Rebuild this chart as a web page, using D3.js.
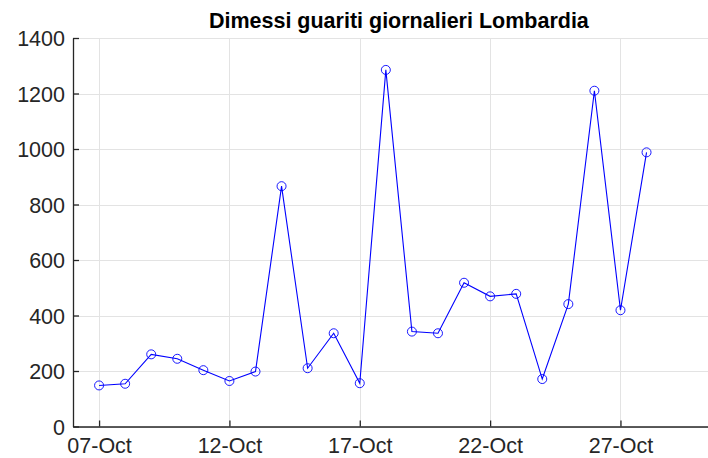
<!DOCTYPE html>
<html>
<head>
<meta charset="utf-8">
<script src="https://cdn.jsdelivr.net/npm/d3@7"></script>
<style>
  body { margin: 0; background: #fff; }
  svg { display: block; font-family: "Liberation Sans", Arial, sans-serif; }
</style>
</head>
<body>
<div id="chart"></div>
<script>
// Dimessi guariti giornalieri Lombardia

// Data
let days = ['2020-10-07', '2020-10-08', '2020-10-09', '2020-10-10', '2020-10-11', '2020-10-12',
  '2020-10-13', '2020-10-14', '2020-10-15', '2020-10-16', '2020-10-17', '2020-10-18',
  '2020-10-19', '2020-10-20', '2020-10-21', '2020-10-22', '2020-10-23', '2020-10-24',
  '2020-10-25', '2020-10-26', '2020-10-27', '2020-10-28']
let guariti = [148, 154, 260, 244, 203, 164, 198, 866, 210, 336, 156, 1285,
  342, 336, 518, 469, 478, 171, 441, 1210, 419, 988]
let xTicks = ['2020-10-07', '2020-10-12', '2020-10-17', '2020-10-22', '2020-10-27']
let yTicks = [0, 200, 400, 600, 800, 1000, 1200, 1400]

let parse = d3.timeParse('%Y-%m-%d')
let data = days.map((d, i) => ({ date: parse(d), value: guariti[i] }))

let chart = {
  width: 708,
  height: 458,
  left: 73,
  top: 38,
  bottom: 426.5,
}

let svg = d3.select('#chart')
  .append('svg')
    .attr('width', chart.width)
    .attr('height', chart.height)

// scales (axes run past the right edge of the window, as in the picture)
let x = d3.scaleTime()
  .domain([parse('2020-10-06'), parse('2020-10-31')])
  .range([chart.left, chart.left + 25 * 26.07])

let y = d3.scaleLinear()
  .domain([0, 1400])
  .range([chart.bottom, chart.top])

let xRight = x.range()[1]

// grid
let grid = svg.append('g')
  .attr('stroke', '#e3e3e3')
  .attr('stroke-width', 1)

grid.selectAll('line.gy')
  .data(yTicks)
  .enter()
  .append('line')
    .attr('class', 'gy')
    .attr('x1', chart.left)
    .attr('x2', xRight)
    .attr('y1', (d) => Math.round(y(d)) + 0.5)
    .attr('y2', (d) => Math.round(y(d)) + 0.5)

grid.selectAll('line.gx')
  .data(xTicks.map(parse))
  .enter()
  .append('line')
    .attr('class', 'gx')
    .attr('x1', (d) => Math.round(x(d)) + 0.5)
    .attr('x2', (d) => Math.round(x(d)) + 0.5)
    .attr('y1', chart.top)
    .attr('y2', chart.bottom)

// axes
let xAxis = d3.axisBottom(x)
  .tickValues(xTicks.map(parse))
  .tickFormat(d3.timeFormat('%d-%b'))
  .tickSizeInner(-6)
  .tickSizeOuter(0)
  .tickPadding(11.5)

let yAxis = d3.axisLeft(y)
  .tickValues(yTicks)
  .tickFormat(d3.format('d'))
  .tickSizeInner(-6)
  .tickSizeOuter(0)
  .tickPadding(8)

let gx = svg.append('g')
  .attr('transform', `translate(0, ${chart.bottom})`)
  .call(xAxis)

let gy = svg.append('g')
  .attr('transform', `translate(${chart.left}, 0)`)
  .call(yAxis)

for (let g of [gx, gy]) {
  g.select('.domain').attr('stroke', '#262626').attr('stroke-width', 1.3)
  g.selectAll('.tick line').attr('stroke', '#262626').attr('stroke-width', 1.3)
  g.selectAll('.tick text')
    .attr('fill', '#262626')
    .style('font-size', '21.5px')
    .style('font-family', '"Liberation Sans", Arial, sans-serif')
}
gy.selectAll('.tick text').attr('dy', '0.36em')

// line
let line = d3.line()
  .x((d) => x(d.date))
  .y((d) => y(d.value))

svg.append('path')
  .datum(data)
  .attr('d', line)
  .attr('fill', 'none')
  .attr('stroke', '#0000ff')
  .attr('stroke-width', 1.1)

svg.selectAll('circle.pt')
  .data(data)
  .enter()
  .append('circle')
    .attr('class', 'pt')
    .attr('cx', (d) => x(d.date))
    .attr('cy', (d) => y(d.value))
    .attr('r', 4.5)
    .attr('fill', 'none')
    .attr('stroke', '#0000ff')
    .attr('stroke-width', 0.9)

// title
svg.append('text')
  .attr('x', (chart.left + xRight) / 2)
  .attr('y', 28)
  .attr('text-anchor', 'middle')
  .attr('font-weight', 'bold')
  .attr('font-size', '21.5px')
  .attr('fill', '#000')
  .text('Dimessi guariti giornalieri Lombardia')
</script>
</body>
</html>
